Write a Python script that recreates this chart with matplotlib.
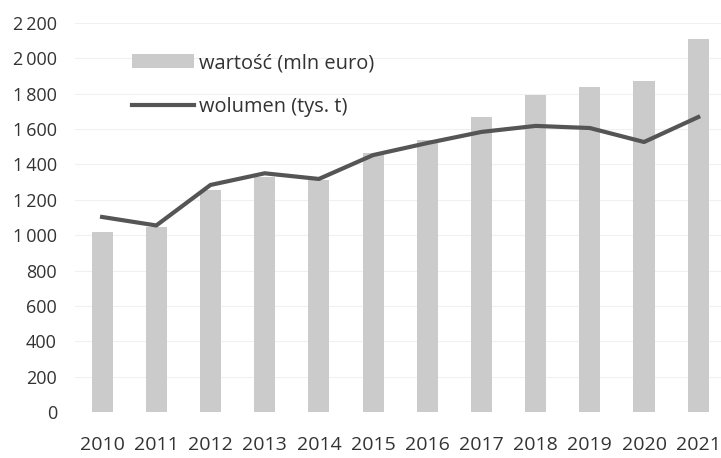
import matplotlib
matplotlib.use("Agg")
import matplotlib.pyplot as plt
import numpy as np

years = ["2010", "2011", "2012", "2013", "2014", "2015", "2016", "2017", "2018", "2019", "2020", "2021"]
wartosc = [1020, 1045, 1255, 1330, 1312, 1465, 1538, 1668, 1793, 1838, 1872, 2110]
wolumen = [1103, 1055, 1284, 1350, 1318, 1453, 1521, 1584, 1618, 1606, 1527, 1668]
yticks = [0, 200, 400, 600, 800, 1000, 1200, 1400, 1600, 1800, 2000, 2200]
ytick_labels = ["0", "200", "400", "600", "800", "1\u2009000", "1\u2009200", "1\u2009400",
                "1\u2009600", "1\u2009800", "2\u2009000", "2\u2009200"]

plt.rcParams['font.family'] = ['Open Sans', 'DejaVu Sans']

fig = plt.figure(figsize=(7.21, 4.58), dpi=100)
ax = fig.add_axes([75/721, 1 - 412/458, 646/721, (412 - 23)/458])

x = np.arange(len(years))
bars = ax.bar(x, wartosc, width=0.39, color="#cbcbcb", label="wartość (mln euro)", zorder=2)
line, = ax.plot(x, wolumen, color="#555555", lw=3, label="wolumen (tys. t)", zorder=3)

ax.set_xlim(-0.5, 11.42)
ax.set_ylim(0, 2200)
ax.set_yticks(yticks)
ax.set_yticklabels(ytick_labels)
ax.set_xticks(x)
ax.set_xticklabels(years)
ax.tick_params(axis='y', length=0, pad=13, labelsize=13, colors="#333333")
ax.tick_params(axis='x', length=0, pad=17, labelsize=14, colors="#333333")
for s in ax.spines.values():
    s.set_visible(False)
ax.yaxis.grid(True, color="#f0f0f0", lw=0.8, zorder=0)
ax.set_axisbelow(True)

leg = fig.legend(handles=[bars, line], loc="upper left",
                 bbox_to_anchor=(132/721, 1 - 53/458), bbox_transform=fig.transFigure,
                 frameon=False, borderpad=0, borderaxespad=0,
                 fontsize=14.4, handlelength=3.1, handletextpad=0.25, labelspacing=1.2,
                 labelcolor="#333333")

fig.savefig("out.png", dpi=100)
